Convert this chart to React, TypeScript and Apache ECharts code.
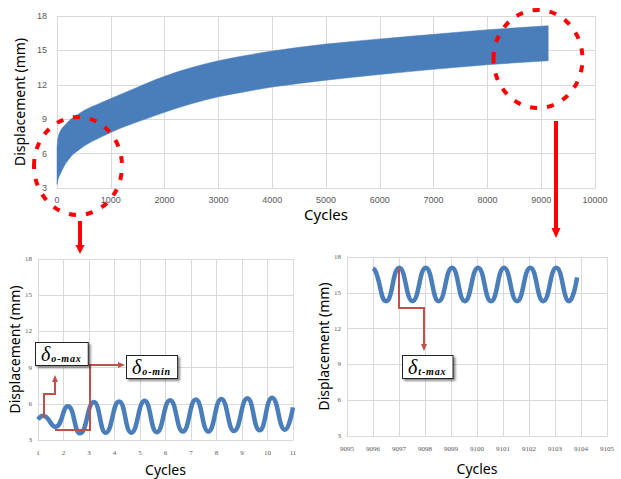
import React, { useEffect, useRef } from 'react';
import * as echarts from 'echarts';

// Main chart: envelope of displacement over cycles
const mainCycles = [0, 10, 30, 60, 100, 150, 220, 300, 400, 500, 650, 800, 1000, 1200, 1400, 1700, 2000, 2500, 3000, 3500, 4000, 5000, 6000, 7000, 8000, 9130];
const mainUpper = [6.5, 7.1, 7.6, 7.95, 8.25, 8.5, 8.85, 9.15, 9.45, 9.75, 10.1, 10.4, 10.8, 11.2, 11.6, 12.2, 12.75, 13.5, 14.1, 14.55, 14.95, 15.55, 16.0, 16.4, 16.8, 17.15];
const mainLower = [3.3, 3.55, 3.9, 4.2, 4.6, 5.05, 5.5, 5.95, 6.3, 6.65, 7.05, 7.4, 7.85, 8.25, 8.6, 9.1, 9.6, 10.35, 10.95, 11.4, 11.8, 12.4, 12.9, 13.35, 13.75, 14.1];

// Early cycles inset
const earlyCycles = [1.0, 1.2, 1.68, 2.17, 2.65, 3.19, 3.66, 4.18, 4.66, 5.18, 5.66, 6.18, 6.68, 7.19, 7.68, 8.19, 8.69, 9.21, 9.69, 10.18, 10.68, 11.0];
const earlyDisp = [4.7, 5.0, 4.1, 5.8, 3.55, 6.15, 3.6, 6.2, 3.6, 6.25, 3.65, 6.3, 3.7, 6.35, 3.7, 6.4, 3.75, 6.45, 3.8, 6.5, 3.85, 5.7];

// Late cycles inset
const lateCycles = [9096.0, 9096.1, 9096.51, 9097.01, 9097.52, 9098.03, 9098.53, 9099.04, 9099.53, 9100.04, 9100.54, 9101.04, 9101.54, 9102.05, 9102.55, 9103.05, 9103.54, 9103.85];
const lateDisp = [17.05, 16.8, 14.3, 17.1, 14.3, 17.1, 14.3, 17.1, 14.3, 17.1, 14.3, 17.1, 14.3, 17.1, 14.3, 17.1, 14.3, 16.3];

const yTicks = { min: 3, max: 18, interval: 3 };

const BLUE = '#4a7ebb';
const GRID = '#d9d9d9';
const LABEL = '#595959';
const RED = '#ff0000';
const DARKRED = '#c0504d';

const plain = (v: number) => String(v);

// monotone cubic (Fritsch-Carlson) bezier segments through pixel points sorted by x
function monoSegments(p: number[][]) {
  const n = p.length;
  const h: number[] = [];
  const d: number[] = [];
  for (let k = 0; k < n - 1; k++) {
    h[k] = Math.max(p[k + 1][0] - p[k][0], 1e-6);
    d[k] = (p[k + 1][1] - p[k][1]) / h[k];
  }
  const m: number[] = new Array(n).fill(0);
  m[0] = d[0];
  m[n - 1] = d[n - 2];
  for (let k = 1; k < n - 1; k++) {
    if (d[k - 1] * d[k] <= 0) m[k] = 0;
    else {
      const w1 = 2 * h[k] + h[k - 1];
      const w2 = h[k] + 2 * h[k - 1];
      m[k] = (w1 + w2) / (w1 / d[k - 1] + w2 / d[k]);
    }
  }
  const segs: number[][][] = [];
  for (let k = 0; k < n - 1; k++) {
    const c1 = [p[k][0] + h[k] / 3, p[k][1] + (m[k] * h[k]) / 3];
    const c2 = [p[k + 1][0] - h[k] / 3, p[k + 1][1] - (m[k + 1] * h[k]) / 3];
    segs.push([p[k], c1, c2, p[k + 1]]);
  }
  return segs;
}

const f = (v: number) => v.toFixed(2);

export default function App() {
  const ref = useRef<HTMLDivElement>(null);
  useEffect(() => {
    if (!ref.current) return;
    const chart = echarts.init(ref.current, null, { renderer: 'svg' });

    const titleStyle = { fontFamily: 'Noto Sans', fontSize: 14, color: '#000' };
    const mainLabel = { fontFamily: 'Liberation Sans', fontSize: 9, color: LABEL, formatter: plain };
    const insetLabel = { fontFamily: 'Liberation Sans Narrow', fontSize: 7, color: LABEL, formatter: plain };
    const split = { show: true, lineStyle: { color: GRID, width: 1 } };
    const axLine = { show: true, lineStyle: { color: GRID, width: 1 } };

    const labelBox = (x: number, y: number, sub: string) => ({
      type: 'text',
      x,
      y,
      z: 120,
      style: {
        text: '{d|δ}{s|' + sub + '}',
        rich: {
          d: { fontFamily: 'Liberation Serif', fontStyle: 'italic', fontSize: 20, color: '#111', lineHeight: 19 },
          s: { fontFamily: 'Liberation Serif', fontStyle: 'italic', fontWeight: 'bold', fontSize: 10, color: '#111', verticalAlign: 'bottom', lineHeight: 11, padding: [0, 0, 0, 1] },
        },
        backgroundColor: '#fff',
        borderColor: '#222',
        borderWidth: 1,
        padding: [1, 7, 2, 5],
        shadowColor: 'rgba(0,0,0,0.45)',
        shadowOffsetX: 2,
        shadowOffsetY: 2,
        shadowBlur: 2,
      },
    });

    const hs = '\u200a';
    const spaced = (s: string) => s.split('').join(hs);

    const option: any = {
      animation: false,
      grid: [
        { left: 57, top: 16, width: 538, height: 172 },
        { left: 38, top: 259, width: 255, height: 181 },
        { left: 347, top: 257, width: 260, height: 179 },
      ],
      xAxis: [
        {
          gridIndex: 0, type: 'value', min: 0, max: 10000, interval: 1000,
          axisLine: axLine, axisTick: { show: false }, axisLabel: { ...mainLabel, margin: 7 }, splitLine: split,
          name: 'Cycles', nameLocation: 'middle', nameGap: 18, nameTextStyle: { ...titleStyle, fontSize: 15 },
        },
        {
          gridIndex: 1, type: 'value', min: 1, max: 11, interval: 1,
          axisLine: axLine, axisTick: { show: false }, axisLabel: { ...insetLabel, margin: 9 }, splitLine: split,
          name: 'Cycles', nameLocation: 'middle', nameGap: 22, nameTextStyle: titleStyle,
        },
        {
          gridIndex: 2, type: 'value', min: 9095, max: 9105, interval: 1,
          axisLine: axLine, axisTick: { show: false }, axisLabel: { ...insetLabel, margin: 9 }, splitLine: split,
          name: 'Cycles', nameLocation: 'middle', nameGap: 25, nameTextStyle: titleStyle,
        },
      ],
      yAxis: [
        {
          gridIndex: 0, type: 'value', ...yTicks,
          axisLine: axLine, axisTick: { show: false }, axisLabel: { ...mainLabel, margin: 10 }, splitLine: split,
          name: 'Displacement (mm)', nameLocation: 'middle', nameGap: 23, nameTextStyle: titleStyle,
        },
        {
          gridIndex: 1, type: 'value', ...yTicks,
          axisLine: axLine, axisTick: { show: false }, axisLabel: { ...insetLabel, margin: 6 }, splitLine: split,
          name: 'Displacement (mm)', nameLocation: 'middle', nameGap: 14, nameTextStyle: titleStyle,
        },
        {
          gridIndex: 2, type: 'value', ...yTicks,
          axisLine: axLine, axisTick: { show: false }, axisLabel: { ...insetLabel, margin: 6 }, splitLine: split,
          name: 'Displacement (mm)', nameLocation: 'middle', nameGap: 14, nameTextStyle: titleStyle,
        },
      ],
      series: [
        {
          type: 'custom',
          xAxisIndex: 0,
          yAxisIndex: 0,
          data: mainCycles.map((c, i) => [c, mainLower[i], mainUpper[i]]),
          encode: { x: 0, y: [1, 2] },
          renderItem: (params: any, api: any) => {
            if (params.dataIndex !== 0) return null;
            const top = mainCycles.map((c, i) => api.coord([c, mainUpper[i]]));
            const bot = mainCycles.map((c, i) => api.coord([c, mainLower[i]]));
            const ts = monoSegments(top);
            const bs = monoSegments(bot);
            let dPath = `M${f(top[0][0])},${f(top[0][1])}`;
            ts.forEach((s) => {
              dPath += `C${f(s[1][0])},${f(s[1][1])} ${f(s[2][0])},${f(s[2][1])} ${f(s[3][0])},${f(s[3][1])}`;
            });
            const lastB = bot[bot.length - 1];
            dPath += `L${f(lastB[0])},${f(lastB[1])}`;
            for (let k = bs.length - 1; k >= 0; k--) {
              const s = bs[k];
              dPath += `C${f(s[2][0])},${f(s[2][1])} ${f(s[1][0])},${f(s[1][1])} ${f(s[0][0])},${f(s[0][1])}`;
            }
            dPath += 'Z';
            return {
              type: 'path',
              shape: { pathData: dPath },
              style: { fill: BLUE, stroke: BLUE, lineWidth: 0.5 },
            };
          },
        },
        {
          type: 'line',
          xAxisIndex: 1,
          yAxisIndex: 1,
          data: earlyCycles.map((c, i) => [c, earlyDisp[i]]),
          smooth: 0.5,
          symbol: 'none',
          lineStyle: { color: BLUE, width: 4.5 },
        },
        {
          type: 'line',
          xAxisIndex: 2,
          yAxisIndex: 2,
          data: lateCycles.map((c, i) => [c, lateDisp[i]]),
          smooth: 0.5,
          symbol: 'none',
          lineStyle: { color: BLUE, width: 4.5 },
        },
      ],
      graphic: [
        { type: 'ellipse', z: 100, shape: { cx: 78, cy: 166, rx: 44, ry: 49 }, style: { fill: 'none', stroke: RED, lineWidth: 4, lineDash: [7, 10] } },
        { type: 'ellipse', z: 100, shape: { cx: 538, cy: 59, rx: 44.5, ry: 49 }, style: { fill: 'none', stroke: RED, lineWidth: 4, lineDash: [7, 10] } },
        { type: 'line', z: 100, shape: { x1: 80, y1: 221, x2: 80, y2: 246 }, style: { stroke: RED, lineWidth: 4 } },
        { type: 'polygon', z: 100, shape: { points: [[75.5, 245], [84.5, 245], [80, 254]] }, style: { fill: RED } },
        { type: 'line', z: 100, shape: { x1: 556, y1: 121, x2: 556, y2: 229 }, style: { stroke: RED, lineWidth: 4 } },
        { type: 'polygon', z: 100, shape: { points: [[551.5, 228], [560.5, 228], [556, 238]] }, style: { fill: RED } },

        { type: 'polyline', z: 110, shape: { points: [[44, 418], [44, 394], [55, 394], [55, 381]] }, style: { fill: 'none', stroke: DARKRED, lineWidth: 2 } },
        { type: 'polygon', z: 110, shape: { points: [[52, 382], [58, 382], [55, 375]] }, style: { fill: DARKRED } },
        { type: 'polyline', z: 110, shape: { points: [[55, 430], [90, 430], [90, 365], [118, 365]] }, style: { fill: 'none', stroke: DARKRED, lineWidth: 2 } },
        { type: 'polygon', z: 110, shape: { points: [[118, 362], [118, 368], [125, 365]] }, style: { fill: DARKRED } },
        { type: 'polyline', z: 110, shape: { points: [[399, 268], [399, 308], [424, 308], [424, 344]] }, style: { fill: 'none', stroke: DARKRED, lineWidth: 2 } },
        { type: 'polygon', z: 110, shape: { points: [[421, 344], [427, 344], [424, 351]] }, style: { fill: DARKRED } },

        labelBox(36, 343, spaced('o-max')),
        labelBox(127, 356, spaced('o-min')),
        labelBox(403, 356, spaced('t-max')),
      ],
    };

    chart.setOption(option);
    return () => chart.dispose();
  }, []);

  return <div ref={ref} style={{ position: 'absolute', left: 0, top: 0, width: 621, height: 479 }} />;
}
